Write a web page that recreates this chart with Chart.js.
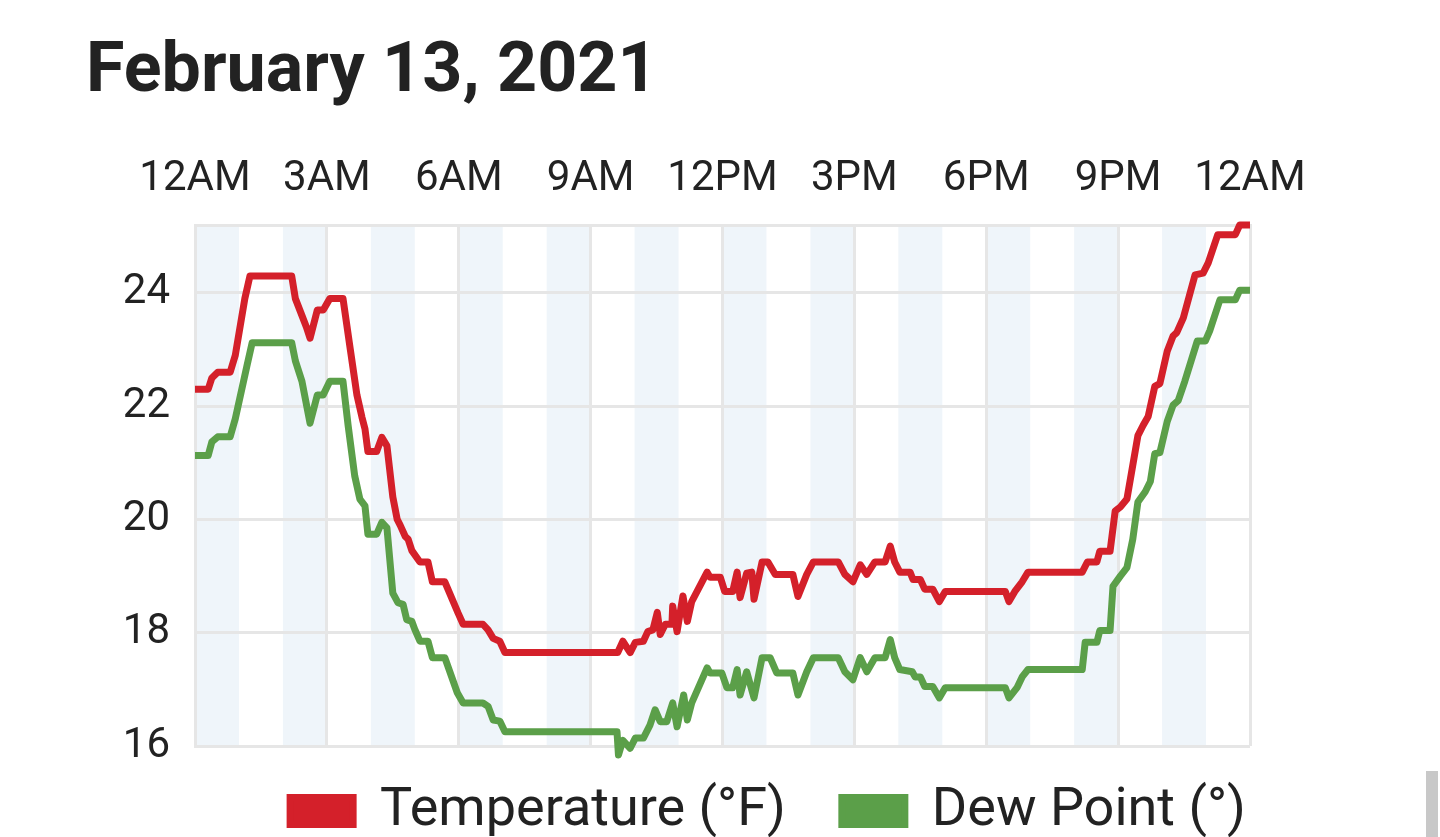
<!DOCTYPE html>
<html>
<head>
<meta charset="utf-8">
<script src="https://cdn.jsdelivr.net/npm/chart.js@4.4.1/dist/chart.umd.min.js"></script>
<style>
html,body{margin:0;padding:0;background:#fff;overflow:hidden;}
#wrap{position:absolute;left:0;top:0;width:1440px;height:837px;}
#sb{position:absolute;left:1426px;top:771px;width:12px;height:66px;background:#c8c8c8;}
</style>
</head>
<body>
<div id="wrap"><canvas id="c"></canvas></div>
<div id="sb"></div>
<script>
const titleText = 'February 13, 2021';
const seriesNames = ['Temperature (°F)', 'Dew Point (°)'];
const xTickValues = [0, 180, 360, 540, 720, 900, 1080, 1260, 1440];
const xTickLabels = ['12AM', '3AM', '6AM', '9AM', '12PM', '3PM', '6PM', '9PM', '12AM'];
const yTickValues = [16, 18, 20, 22, 24];

// minutes after midnight
const tempTimes = [0, 18, 23, 31, 48, 55, 68, 75, 132, 137, 146, 152, 157, 167, 175, 184, 202, 212, 221, 228, 232, 236, 248, 255, 262, 270, 276, 280, 287, 291, 296, 307, 318, 324, 341, 359, 366, 393, 400, 407, 416, 423, 577, 584, 594, 601, 612, 618, 625, 631, 635, 642, 651, 652, 658, 666, 672, 678, 699, 703, 717, 723, 734, 740, 744, 753, 760, 763, 774, 782, 792, 816, 823, 835, 844, 878, 887, 898, 908, 917, 928, 942, 949, 955, 962, 976, 980, 990, 996, 1007, 1016, 1024, 1106, 1111, 1119, 1129, 1137, 1211, 1218, 1231, 1235, 1249, 1256, 1263, 1272, 1287, 1294, 1301, 1310, 1317, 1327, 1335, 1340, 1349, 1365, 1376, 1383, 1396, 1420, 1426, 1440];
const tempValues = [22.3, 22.3, 22.5, 22.6, 22.6, 22.9, 23.9, 24.3, 24.3, 23.9, 23.6, 23.4, 23.2, 23.7, 23.7, 23.9, 23.9, 23.0, 22.2, 21.8, 21.6, 21.2, 21.2, 21.45, 21.3, 20.4, 20.0, 19.9, 19.7, 19.65, 19.45, 19.25, 19.25, 18.9, 18.9, 18.35, 18.15, 18.15, 18.05, 17.9, 17.85, 17.65, 17.65, 17.85, 17.65, 17.83, 17.85, 18.02, 18.05, 18.36, 17.97, 18.15, 18.15, 18.47, 18.02, 18.65, 18.2, 18.55, 19.07, 18.98, 18.98, 18.73, 18.73, 19.07, 18.62, 19.05, 19.07, 18.59, 19.25, 19.25, 19.03, 19.03, 18.64, 19.03, 19.25, 19.25, 19.03, 18.9, 19.2, 19.03, 19.25, 19.25, 19.53, 19.25, 19.07, 19.07, 18.94, 18.94, 18.77, 18.77, 18.55, 18.73, 18.73, 18.55, 18.73, 18.9, 19.07, 19.07, 19.25, 19.25, 19.44, 19.44, 20.15, 20.22, 20.36, 21.48, 21.66, 21.82, 22.35, 22.4, 22.97, 23.24, 23.3, 23.56, 24.32, 24.35, 24.53, 25.03, 25.03, 25.2, 25.2];

const dewTimes = [0, 18, 23, 31, 48, 55, 71, 78, 132, 137, 146, 157, 167, 175, 184, 202, 209, 218, 225, 232, 236, 248, 255, 262, 270, 277, 284, 289, 296, 300, 307, 318, 324, 341, 358, 366, 393, 400, 407, 416, 423, 576, 578, 584, 594, 601, 612, 621, 628, 635, 644, 652, 658, 667, 672, 678, 699, 703, 719, 726, 734, 740, 744, 753, 763, 774, 785, 794, 816, 823, 835, 844, 878, 887, 898, 908, 917, 928, 942, 949, 955, 962, 979, 983, 990, 996, 1007, 1016, 1024, 1106, 1111, 1122, 1129, 1137, 1211, 1215, 1231, 1235, 1249, 1253, 1263, 1272, 1280, 1287, 1297, 1304, 1310, 1317, 1327, 1335, 1342, 1351, 1368, 1379, 1385, 1399, 1420, 1426, 1440];
const dewValues = [21.13, 21.13, 21.37, 21.46, 21.46, 21.78, 22.72, 23.12, 23.12, 22.8, 22.44, 21.7, 22.2, 22.2, 22.44, 22.44, 21.66, 20.77, 20.36, 20.24, 19.74, 19.74, 19.95, 19.85, 18.7, 18.53, 18.5, 18.23, 18.2, 18.06, 17.85, 17.85, 17.56, 17.56, 16.94, 16.76, 16.76, 16.7, 16.46, 16.44, 16.25, 16.25, 15.84, 16.1, 15.96, 16.14, 16.14, 16.37, 16.64, 16.43, 16.43, 16.76, 16.34, 16.9, 16.46, 16.76, 17.38, 17.29, 17.29, 17.03, 17.03, 17.35, 16.9, 17.31, 16.85, 17.56, 17.56, 17.29, 17.29, 16.9, 17.31, 17.56, 17.56, 17.31, 17.17, 17.56, 17.31, 17.56, 17.56, 17.88, 17.56, 17.35, 17.31, 17.22, 17.22, 17.05, 17.05, 16.85, 17.03, 17.03, 16.85, 17.03, 17.22, 17.35, 17.35, 17.83, 17.83, 18.04, 18.04, 18.82, 19.0, 19.15, 19.65, 20.31, 20.49, 20.67, 21.16, 21.18, 21.73, 22.02, 22.1, 22.44, 23.15, 23.15, 23.33, 23.88, 23.88, 24.05, 24.05];

const shadedHours = [0, 2, 4, 6, 8, 10, 12, 14, 16, 18, 20, 22];

const RED = '#d4202a';
const GREEN = '#5b9f49';
const GRID = '#e6e6e6';
const TEXT = '#222222';

const bandPlugin = {
  id: 'hourBands',
  beforeDraw(chart) {
    const {ctx, chartArea: a, scales: {x}} = chart;
    ctx.save();
    ctx.fillStyle = '#eff5fa';
    shadedHours.forEach(h => {
      const x0 = x.getPixelForValue(h * 60);
      const x1 = x.getPixelForValue((h + 1) * 60);
      ctx.fillRect(x0, a.top, x1 - x0, a.bottom - a.top);
    });
    ctx.restore();
  }
};

// nudge the legend block (keeps wide item spacing while sitting closer to the plot)
const legendShift = {
  id: 'legendShift',
  afterLayout(chart) {
    const l = chart.legend;
    if (!l) return;
    l.left += 8; l.right += 8;
    l.top -= 18; l.bottom -= 18;
  }
};

new Chart(document.getElementById('c'), {
  type: 'line',
  data: {
    datasets: [
      {
        label: seriesNames[0],
        data: tempTimes.map((t, i) => ({x: t, y: tempValues[i]})),
        borderColor: RED, backgroundColor: RED,
        borderWidth: 7, borderJoinStyle: 'round',
        pointRadius: 0, tension: 0, clip: false
      },
      {
        label: seriesNames[1],
        data: dewTimes.map((t, i) => ({x: t, y: dewValues[i]})),
        borderColor: GREEN, backgroundColor: GREEN,
        borderWidth: 7, borderJoinStyle: 'round',
        pointRadius: 0, tension: 0, clip: false
      }
    ]
  },
  options: {
    responsive: true,
    maintainAspectRatio: false,
    animation: false,
    layout: {padding: {left: 86, right: 6, top: 0, bottom: -29}},
    plugins: {
      title: {
        display: true, text: titleText, align: 'start', color: TEXT,
        font: {family: 'Roboto', size: 70, weight: 'bold', lineHeight: 1.2},
        padding: {top: 31, bottom: 0}
      },
      legend: {
        display: true, position: 'bottom',
        labels: {
          color: TEXT, font: {family: 'Roboto', size: 54},
          boxWidth: 63, boxHeight: 27, padding: 56,
          generateLabels(chart) {
            return chart.data.datasets.map((ds, i) => ({
              text: ds.label, fillStyle: ds.backgroundColor, strokeStyle: ds.borderColor,
              lineWidth: 7, lineJoin: 'miter', hidden: false, datasetIndex: i, fontColor: TEXT
            }));
          }
        }
      },
      tooltip: {enabled: false}
    },
    scales: {
      x: {
        type: 'linear', position: 'top', min: 0, max: 1440,
        afterBuildTicks(s) { s.ticks = xTickValues.map(v => ({value: v})); },
        afterFit(s) { s.height = 110; },
        ticks: {
          callback: (v, i) => xTickLabels[i],
          font: {family: 'Roboto', size: 42}, color: TEXT,
          padding: 20, maxRotation: 0, autoSkip: false
        },
        grid: {color: GRID, lineWidth: 3, drawTicks: false},
        border: {color: GRID, width: 3}
      },
      y: {
        type: 'linear', position: 'left', min: 16, max: 25.2,
        afterBuildTicks(s) { s.ticks = yTickValues.map(v => ({value: v})); },
        afterFit(s) { s.width = 109; },
        ticks: {font: {family: 'Roboto', size: 42}, color: TEXT, padding: 25},
        grid: {color: GRID, lineWidth: 3, drawTicks: false},
        border: {color: GRID, width: 3}
      },
      yRight: {
        type: 'linear', position: 'right', display: true,
        afterFit(s) { s.width = 184; },
        ticks: {display: false},
        grid: {display: false, drawTicks: false},
        border: {display: false}
      }
    }
  },
  plugins: [bandPlugin, legendShift]
});
</script>
</body>
</html>
